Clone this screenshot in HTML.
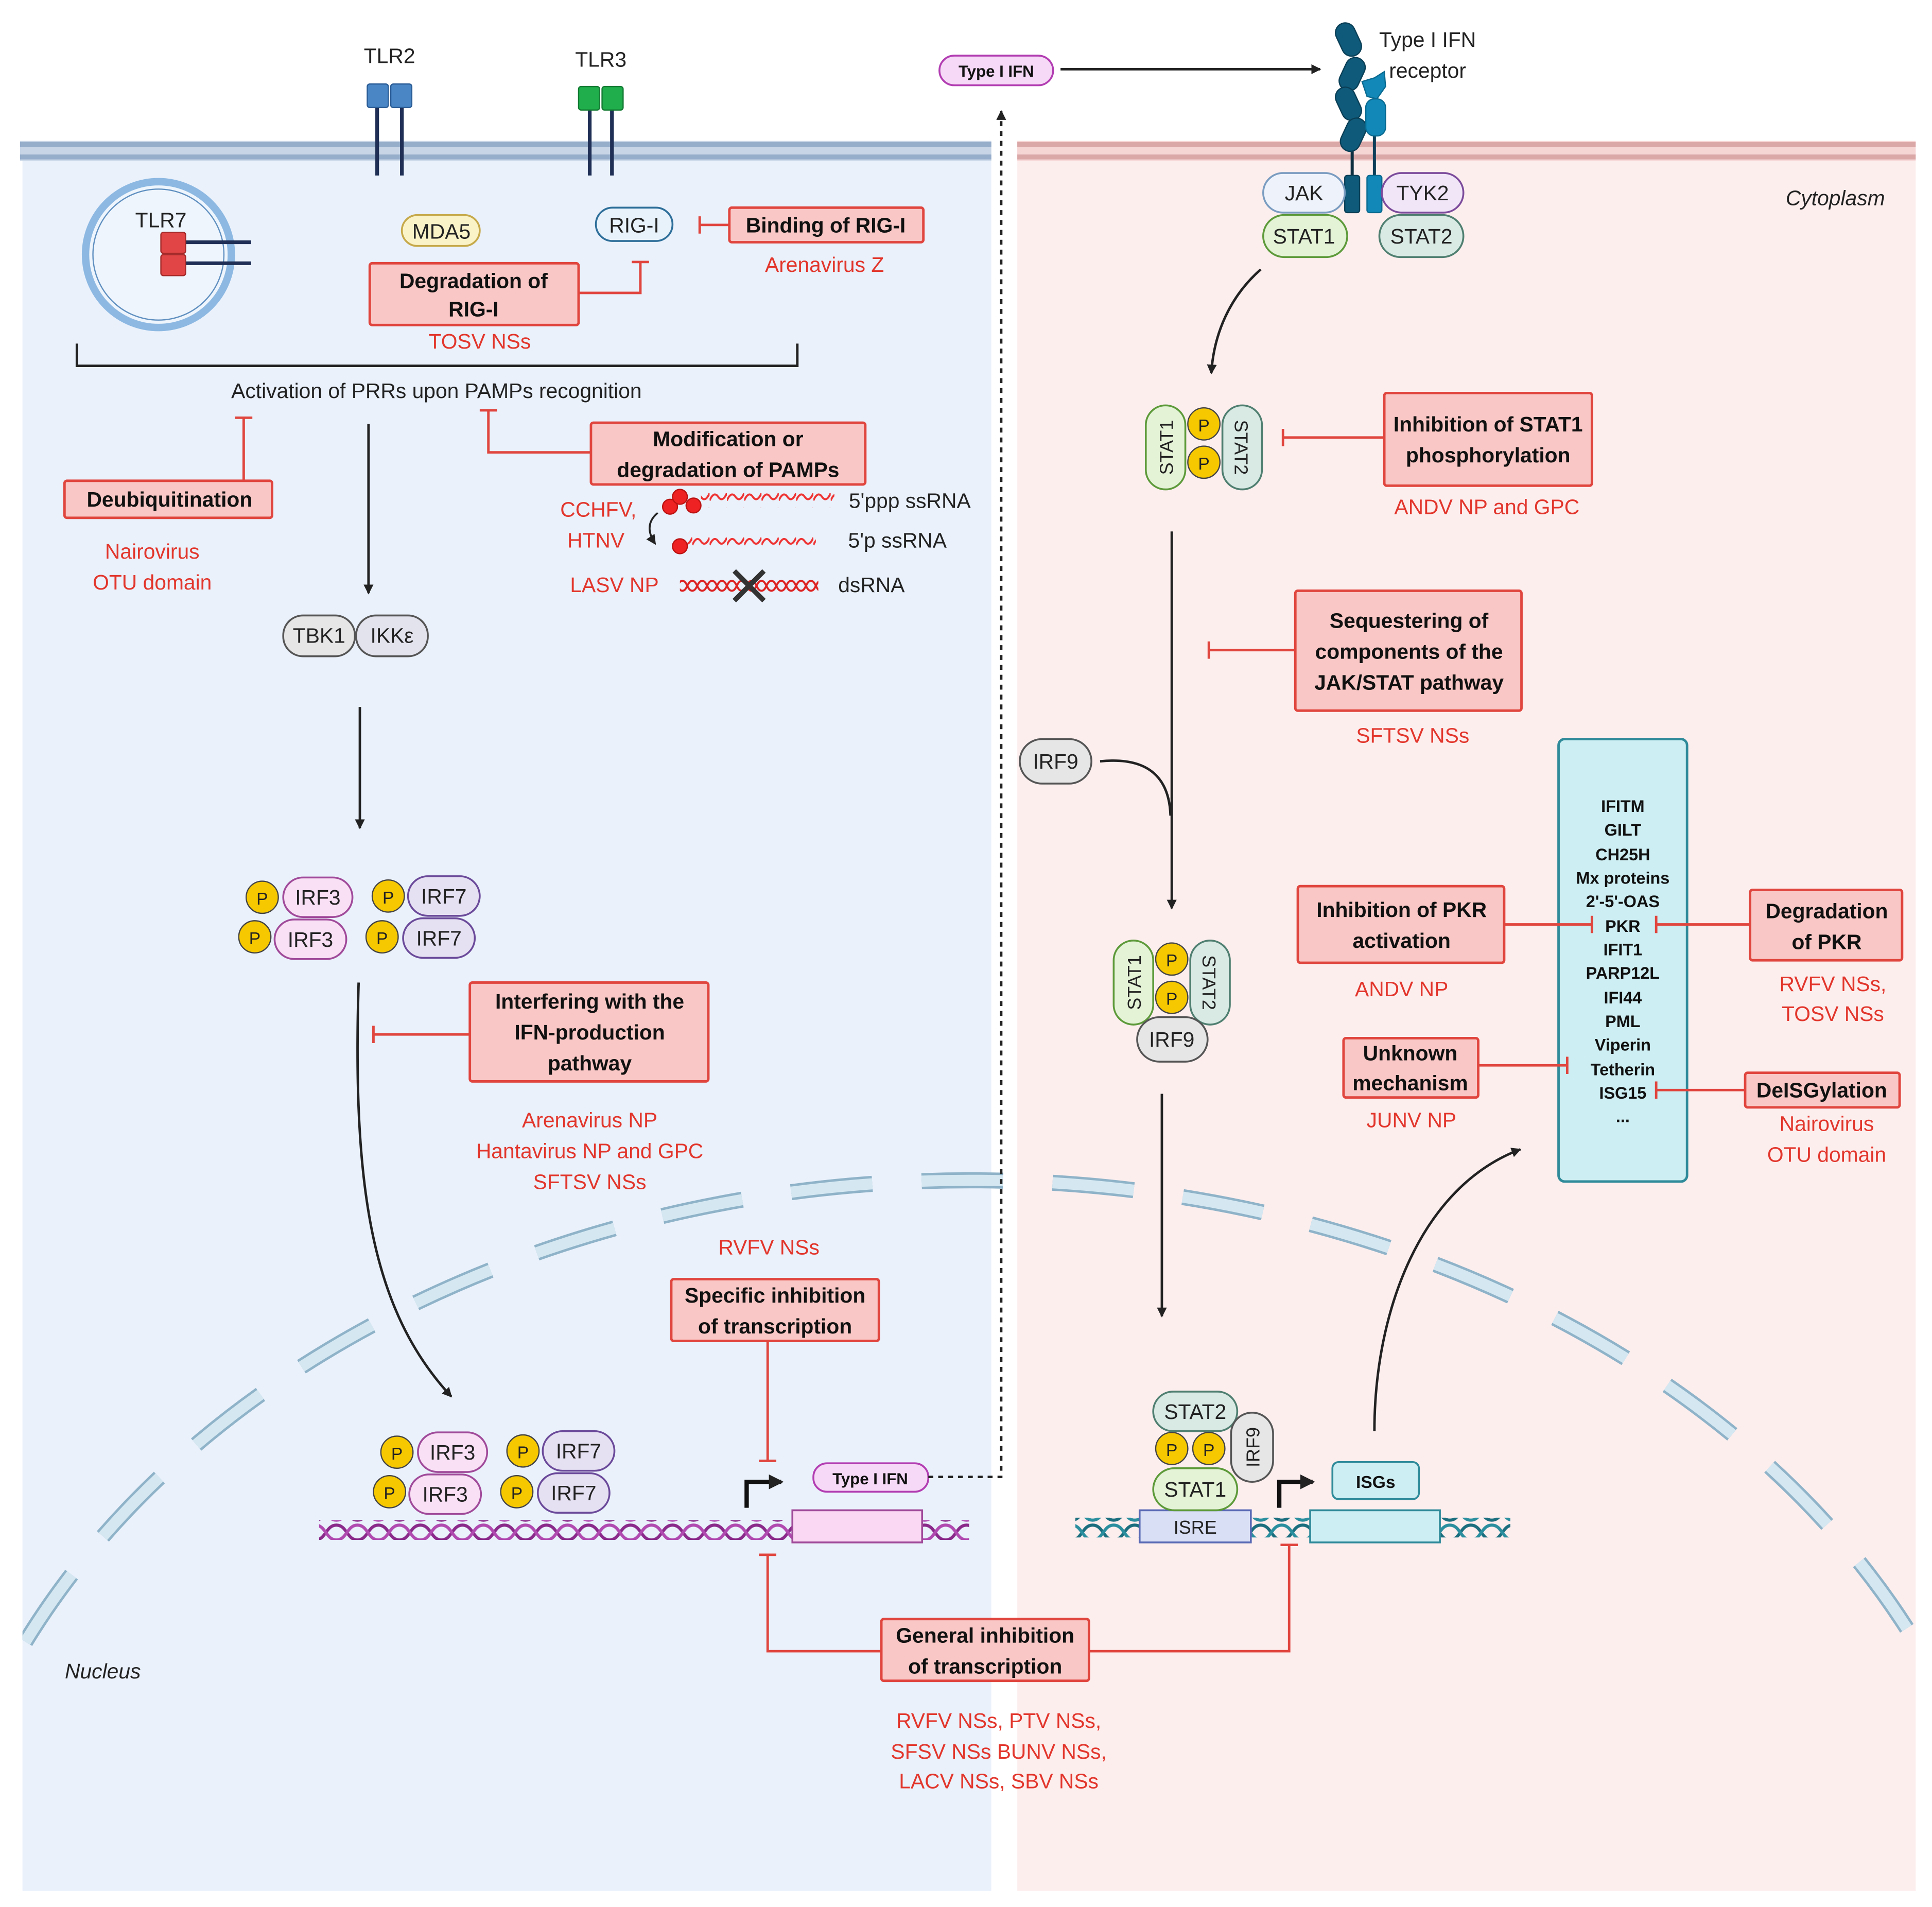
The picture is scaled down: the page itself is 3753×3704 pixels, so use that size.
<!DOCTYPE html>
<html><head><meta charset="utf-8"><style>
html,body{margin:0;padding:0;background:#fff;overflow:hidden;width:3753px;height:3704px;}
svg{display:block;}
text{font-family:"Liberation Sans",sans-serif;}
.t{font-size:17px;fill:#222;text-anchor:middle;}
.r{font-size:17px;fill:#e2362c;text-anchor:middle;}
.b{font-size:17px;font-weight:bold;fill:#111;text-anchor:middle;}
.rb{fill:#f9c7c5;stroke:#e0453e;stroke-width:2;}
.inh{stroke:#e0453e;stroke-width:2;fill:none;}
.ar{stroke:#222;stroke-width:2;fill:none;marker-end:url(#ah);}
.pl{font-size:17px;fill:#222;text-anchor:middle;}
.isg{font-size:13.5px;font-weight:bold;fill:#111;text-anchor:middle;}
</style></head><body>
<svg width="3753" height="3704" viewBox="0 0 1563 1543" xmlns="http://www.w3.org/2000/svg">
<defs>
<marker id="ah" markerWidth="8" markerHeight="8" refX="7" refY="4" orient="auto" markerUnits="userSpaceOnUse" viewBox="0 0 8 8"><path d="M0,0 L8,4 L0,8 z" fill="#222"/></marker>
<marker id="ah2" markerWidth="12" markerHeight="12" refX="10" refY="6" orient="auto" markerUnits="userSpaceOnUse" viewBox="0 0 12 12"><path d="M0,0 L12,6 L0,12 z" fill="#222"/></marker>
<pattern id="dnaP" width="34" height="16" patternUnits="userSpaceOnUse"><path d="M0,2 C8.5,2 8.5,14 17,14 C25.5,14 25.5,2 34,2" stroke="#8a2a8a" stroke-width="2.5" fill="none"/><path d="M0,14 C8.5,14 8.5,2 17,2 C25.5,2 25.5,14 34,14" stroke="#b04ab0" stroke-width="2.5" fill="none"/></pattern>
<pattern id="dnaT" width="34" height="16" patternUnits="userSpaceOnUse"><path d="M0,2 C8.5,2 8.5,14 17,14 C25.5,14 25.5,2 34,2" stroke="#1a6e7e" stroke-width="2.5" fill="none"/><path d="M0,14 C8.5,14 8.5,2 17,2 C25.5,2 25.5,14 34,14" stroke="#2a8e9e" stroke-width="2.5" fill="none"/></pattern>
<pattern id="rna" width="14" height="12" patternUnits="userSpaceOnUse"><path d="M0,9 Q3.5,1 7,6 T14,3" stroke="#e33" stroke-width="1.6" fill="none"/></pattern>
<pattern id="ds" width="16" height="12" patternUnits="userSpaceOnUse"><path d="M0,2 C4,2 4,10 8,10 C12,10 12,2 16,2" stroke="#d22" stroke-width="1.6" fill="none"/><path d="M0,10 C4,10 4,2 8,2 C12,2 12,10 16,10" stroke="#d22" stroke-width="1.6" fill="none"/></pattern>
<clipPath id="nc"><rect x="18" y="900" width="1532" height="445"/></clipPath>
</defs>

<rect x="18" y="120" width="784" height="1410" fill="#eaf1fb"/>
<rect x="823" y="120" width="727" height="1410" fill="#fdeeee"/>
<rect x="16" y="114" width="786" height="16" fill="#c7d5e6"/>
<rect x="16" y="115" width="786" height="4" fill="#97aecb"/>
<rect x="16" y="125" width="786" height="4" fill="#97aecb"/>
<rect x="823" y="114" width="727" height="16" fill="#f6d5d5"/>
<rect x="823" y="115" width="727" height="4" fill="#dba8a8"/>
<rect x="823" y="125" width="727" height="4" fill="#dba8a8"/>

<g clip-path="url(#nc)">
<ellipse cx="785" cy="1605" rx="845" ry="650" fill="none" stroke="#8fb3c8" stroke-width="13" stroke-dasharray="66 40"/>
<ellipse cx="785" cy="1605" rx="845" ry="650" fill="none" stroke="#d5e8f2" stroke-width="9" stroke-dasharray="66 40"/>
</g>

<text class="t" x="315" y="51">TLR2</text>
<line x1="305" y1="86" x2="305" y2="142" stroke="#1f2f55" stroke-width="3"/>
<line x1="325" y1="86" x2="325" y2="142" stroke="#1f2f55" stroke-width="3"/>
<rect x="297" y="68" width="17" height="19" rx="2" fill="#4a86c5" stroke="#2a5c95"/>
<rect x="316" y="68" width="17" height="19" rx="2" fill="#4a86c5" stroke="#2a5c95"/>
<text class="t" x="486" y="54">TLR3</text>
<line x1="477" y1="88" x2="477" y2="142" stroke="#1f2f55" stroke-width="3"/>
<line x1="495" y1="88" x2="495" y2="142" stroke="#1f2f55" stroke-width="3"/>
<rect x="468" y="70" width="17" height="19" rx="2" fill="#1fae4b" stroke="#137a33"/>
<rect x="487" y="70" width="17" height="19" rx="2" fill="#1fae4b" stroke="#137a33"/>

<circle cx="128" cy="206" r="59" fill="#eef5fc" stroke="#8cb8e2" stroke-width="6"/>
<circle cx="128" cy="206" r="53" fill="none" stroke="#5f8fc0" stroke-width="1"/>
<text class="t" x="130" y="184">TLR7</text>
<line x1="145" y1="196" x2="203" y2="196" stroke="#1f2f55" stroke-width="3"/>
<line x1="145" y1="213" x2="203" y2="213" stroke="#1f2f55" stroke-width="3"/>
<rect x="130" y="188" width="20" height="17" rx="2" fill="#e14545" stroke="#a52a2a"/>
<rect x="130" y="206" width="20" height="17" rx="2" fill="#e14545" stroke="#a52a2a"/>

<rect x="325" y="174" width="63" height="25" rx="12.5" fill="#fbf3c8" stroke="#c6a94a" stroke-width="1.5"/>
<text class="pl" x="357" y="193">MDA5</text>
<rect x="482" y="168" width="62" height="27" rx="13.5" fill="#e8f2fb" stroke="#2e6f9a" stroke-width="1.5"/>
<text class="pl" x="513" y="188">RIG-I</text>

<rect class="rb" x="590" y="168" width="157" height="28" rx="2"/>
<text class="b" x="668" y="188">Binding of RIG-I</text>
<path class="inh" d="M590,182 H566 M566,175 V189"/>
<text class="r" x="667" y="220">Arenavirus Z</text>

<rect class="rb" x="299" y="213" width="169" height="50" rx="2"/>
<text class="b" x="383" y="233">Degradation of</text>
<text class="b" x="383" y="256">RIG-I</text>
<path class="inh" d="M468,237 H518 V212 M511,212 H525"/>
<text class="r" x="388" y="282">TOSV NSs</text>

<path d="M62,278 V296 H645 V278" stroke="#222" stroke-width="2" fill="none"/>
<text class="t" x="353" y="322">Activation of PRRs upon PAMPs recognition</text>
<line class="ar" x1="298" y1="343" x2="298" y2="480"/>

<rect class="rb" x="52" y="389" width="168" height="30" rx="2"/>
<text class="b" x="137" y="410">Deubiquitination</text>
<path class="inh" d="M197,389 V338 M190,338 H204"/>
<text class="r" x="123" y="452">Nairovirus</text>
<text class="r" x="123" y="477">OTU domain</text>

<rect class="rb" x="478" y="342" width="222" height="50" rx="2"/>
<text class="b" x="589" y="361">Modification or</text>
<text class="b" x="589" y="386">degradation of PAMPs</text>
<path class="inh" d="M478,366 H395 V332 M388,332 H402"/>

<text class="r" x="484" y="418">CCHFV,</text>
<text class="r" x="482" y="443">HTNV</text>
<text class="r" x="497" y="479">LASV NP</text>
<rect x="567" y="399" width="108" height="12" fill="url(#rna)"/>
<circle cx="542" cy="410" r="6" fill="#e22" stroke="#b11"/>
<circle cx="550" cy="402" r="6" fill="#e22" stroke="#b11"/>
<circle cx="561" cy="409" r="6" fill="#e22" stroke="#b11"/>
<rect x="556" y="432" width="104" height="12" fill="url(#rna)"/>
<circle cx="550" cy="442" r="6" fill="#e22" stroke="#b11"/>
<path d="M532,415 Q520,425 530,440" stroke="#222" stroke-width="1.5" fill="none" marker-end="url(#ah)"/>
<rect x="550" y="467" width="112" height="12" fill="url(#ds)"/>
<path d="M594,462 L618,486 M618,462 L594,486" stroke="#333" stroke-width="4"/>
<text class="t" x="736" y="411">5'ppp ssRNA</text>
<text class="t" x="726" y="443">5'p ssRNA</text>
<text class="t" x="705" y="479">dsRNA</text>

<rect x="229" y="498" width="58" height="33" rx="16" fill="#e6e6e6" stroke="#555" stroke-width="1.5"/>
<text class="pl" x="258" y="520">TBK1</text>
<rect x="288" y="498" width="58" height="33" rx="16" fill="#e3e3ee" stroke="#555" stroke-width="1.5"/>
<text class="pl" x="317" y="520">IKKε</text>
<line class="ar" x1="291" y1="572" x2="291" y2="670"/>

<g id="irfs">
<rect x="229" y="710" width="56" height="32" rx="16" fill="#f9e0f5" stroke="#a04a9a" stroke-width="1.5"/>
<text class="pl" x="257" y="732">IRF3</text>
<rect x="222" y="744" width="58" height="32" rx="16" fill="#f9e0f5" stroke="#a04a9a" stroke-width="1.5"/>
<text class="pl" x="251" y="766">IRF3</text>
<circle cx="212" cy="726" r="13" fill="#f6c800" stroke="#444"/><text class="pl" x="212" y="732" style="font-size:14px">P</text>
<circle cx="206" cy="758" r="13" fill="#f6c800" stroke="#444"/><text class="pl" x="206" y="764" style="font-size:14px">P</text>
<rect x="330" y="709" width="58" height="32" rx="16" fill="#e6e0f3" stroke="#6b4a9a" stroke-width="1.5"/>
<text class="pl" x="359" y="731">IRF7</text>
<rect x="326" y="743" width="58" height="32" rx="16" fill="#e6e0f3" stroke="#6b4a9a" stroke-width="1.5"/>
<text class="pl" x="355" y="765">IRF7</text>
<circle cx="314" cy="725" r="13" fill="#f6c800" stroke="#444"/><text class="pl" x="314" y="731" style="font-size:14px">P</text>
<circle cx="309" cy="758" r="13" fill="#f6c800" stroke="#444"/><text class="pl" x="309" y="764" style="font-size:14px">P</text>
</g>

<rect class="rb" x="380" y="795" width="193" height="80" rx="2"/>
<text class="b" x="477" y="816">Interfering with the</text>
<text class="b" x="477" y="841">IFN-production</text>
<text class="b" x="477" y="866">pathway</text>
<path class="inh" d="M380,837 H302 M302,830 V844"/>
<text class="r" x="477" y="912">Arenavirus NP</text>
<text class="r" x="477" y="937">Hantavirus NP and GPC</text>
<text class="r" x="477" y="962">SFTSV NSs</text>

<path class="ar" d="M290,795 C285,960 300,1060 365,1130"/>

<use href="#irfs" transform="translate(109,449)"/>
<rect x="258" y="1230" width="526" height="16" fill="url(#dnaP)"/>
<rect x="641" y="1222" width="105" height="26" fill="#fad7f3" stroke="#a04a9a" stroke-width="1.5"/>
<path d="M604,1220 V1199 H632" stroke="#111" stroke-width="3.5" fill="none" marker-end="url(#ah2)"/>
<rect x="658" y="1184" width="93" height="23" rx="11" fill="#f6d9f6" stroke="#b23db2" stroke-width="1.5"/>
<text class="b" x="704" y="1201" style="font-size:13px">Type I IFN</text>
<path d="M751,1195 H810 V90" stroke="#222" stroke-width="2" stroke-dasharray="4 4" fill="none" marker-end="url(#ah)"/>

<text class="r" x="622" y="1015">RVFV NSs</text>
<rect class="rb" x="543" y="1035" width="168" height="50" rx="2"/>
<text class="b" x="627" y="1054">Specific inhibition</text>
<text class="b" x="627" y="1079">of transcription</text>
<path class="inh" d="M621,1085 V1182 M614,1182 H628"/>

<rect class="rb" x="713" y="1310" width="168" height="50" rx="2"/>
<text class="b" x="797" y="1329">General inhibition</text>
<text class="b" x="797" y="1354">of transcription</text>
<path class="inh" d="M713,1336 H621 V1258 M614,1258 H628 M881,1336 H1043 V1250 M1036,1250 H1050"/>
<text class="r" x="808" y="1398">RVFV NSs, PTV NSs,</text>
<text class="r" x="808" y="1423">SFSV NSs BUNV NSs,</text>
<text class="r" x="808" y="1447">LACV NSs, SBV NSs</text>
<text x="83" y="1358" style="font-size:17px;font-style:italic;fill:#222;text-anchor:middle">Nucleus</text>

<rect x="760" y="45" width="92" height="24" rx="12" fill="#f6d9f6" stroke="#b23db2" stroke-width="1.5"/>
<text class="b" x="806" y="62" style="font-size:13px">Type I IFN</text>
<line class="ar" x1="858" y1="56" x2="1068" y2="56"/>

<line x1="1094" y1="100" x2="1094" y2="142" stroke="#0e2f40" stroke-width="2.5"/>
<line x1="1112" y1="100" x2="1112" y2="142" stroke="#0e3f5a" stroke-width="2.5"/>
<g fill="#0f5a7a" stroke="#0a3f56" stroke-width="1">
<rect x="-8" y="-14" width="16" height="28" rx="8" transform="translate(1091,32) rotate(-25)"/>
<rect x="-8" y="-14" width="16" height="28" rx="8" transform="translate(1094,60) rotate(25)"/>
<rect x="-8" y="-14" width="16" height="28" rx="8" transform="translate(1091,84) rotate(-25)"/>
<rect x="-8" y="-14" width="16" height="28" rx="8" transform="translate(1095,109) rotate(25)"/>
<rect x="1088" y="142" width="12" height="30" rx="2"/>
</g>
<g fill="#1188b8" stroke="#0a6a90" stroke-width="1">
<path d="M1102,66 L1112,63 L1120,58 L1121,70 L1114,80 L1106,78 z"/>
<rect x="1105" y="80" width="16" height="30" rx="7"/>
<rect x="1106" y="142" width="12" height="30" rx="2"/>
</g>
<text class="t" x="1155" y="38">Type I IFN</text>
<text class="t" x="1155" y="63">receptor</text>
<text x="1485" y="166" style="font-size:17px;font-style:italic;fill:#222;text-anchor:middle">Cytoplasm</text>

<rect x="1022" y="140" width="66" height="32" rx="16" fill="#eef3fb" stroke="#7a9cc0" stroke-width="1.5"/>
<text class="pl" x="1055" y="162">JAK</text>
<rect x="1022" y="174" width="68" height="34" rx="17" fill="#e4f2d6" stroke="#5d9a3a" stroke-width="1.5"/>
<text class="pl" x="1055" y="197">STAT1</text>
<rect x="1118" y="140" width="66" height="32" rx="16" fill="#f0e6f8" stroke="#7c4b9b" stroke-width="1.5"/>
<text class="pl" x="1151" y="162">TYK2</text>
<rect x="1116" y="174" width="68" height="34" rx="17" fill="#d9e9e4" stroke="#4f7f70" stroke-width="1.5"/>
<text class="pl" x="1150" y="197">STAT2</text>
<path class="ar" d="M1020,218 C995,240 982,270 980,302"/>

<g id="dim">
<rect x="927" y="328" width="32" height="68" rx="16" fill="#e4f2d6" stroke="#5d9a3a" stroke-width="1.5"/>
<text class="pl" transform="translate(949,362) rotate(-90)" style="font-size:15px">STAT1</text>
<rect x="989" y="328" width="32" height="68" rx="16" fill="#d9e9e4" stroke="#4f7f70" stroke-width="1.5"/>
<text class="pl" transform="translate(999,362) rotate(90)" style="font-size:15px">STAT2</text>
<circle cx="974" cy="343" r="13" fill="#f6c800" stroke="#444"/><text class="pl" x="974" y="349" style="font-size:14px">P</text>
<circle cx="974" cy="374" r="13" fill="#f6c800" stroke="#444"/><text class="pl" x="974" y="380" style="font-size:14px">P</text>
</g>
<rect class="rb" x="1120" y="318" width="168" height="75" rx="2"/>
<text class="b" x="1204" y="349">Inhibition of STAT1</text>
<text class="b" x="1204" y="374">phosphorylation</text>
<path class="inh" d="M1120,354 H1038 M1038,347 V361"/>
<text class="r" x="1203" y="416">ANDV NP and GPC</text>

<line class="ar" x1="948" y1="430" x2="948" y2="735"/>
<rect class="rb" x="1048" y="478" width="183" height="97" rx="2"/>
<text class="b" x="1140" y="508">Sequestering of</text>
<text class="b" x="1140" y="533">components of the</text>
<text class="b" x="1140" y="558">JAK/STAT pathway</text>
<path class="inh" d="M1048,526 H978 M978,519 V533"/>
<text class="r" x="1143" y="601">SFTSV NSs</text>

<rect x="825" y="598" width="58" height="36" rx="18" fill="#e6e6e6" stroke="#555" stroke-width="1.5"/>
<text class="pl" x="854" y="622">IRF9</text>
<path d="M890,616 C930,612 946,630 947,660" stroke="#222" stroke-width="2" fill="none"/>

<use href="#dim" transform="translate(-26,433)"/>
<rect x="920" y="823" width="57" height="36" rx="18" fill="#e6e6e6" stroke="#555" stroke-width="1.5"/>
<text class="pl" x="948" y="847">IRF9</text>
<line class="ar" x1="940" y1="885" x2="940" y2="1065"/>

<rect x="1261" y="598" width="104" height="358" rx="5" fill="#cdeef2" stroke="#2f8a99" stroke-width="2"/>
<g>
<text class="isg" x="1313" y="657">IFITM</text>
<text class="isg" x="1313" y="676">GILT</text>
<text class="isg" x="1313" y="696">CH25H</text>
<text class="isg" x="1313" y="715">Mx proteins</text>
<text class="isg" x="1313" y="734">2'-5'-OAS</text>
<text class="isg" x="1313" y="754">PKR</text>
<text class="isg" x="1313" y="773">IFIT1</text>
<text class="isg" x="1313" y="792">PARP12L</text>
<text class="isg" x="1313" y="812">IFI44</text>
<text class="isg" x="1313" y="831">PML</text>
<text class="isg" x="1313" y="850">Viperin</text>
<text class="isg" x="1313" y="870">Tetherin</text>
<text class="isg" x="1313" y="889">ISG15</text>
<text class="isg" x="1313" y="908">...</text>
</g>
<rect class="rb" x="1050" y="717" width="167" height="62" rx="2"/>
<text class="b" x="1134" y="742">Inhibition of PKR</text>
<text class="b" x="1134" y="767">activation</text>
<path class="inh" d="M1217,748 H1288 M1288,741 V755"/>
<text class="r" x="1134" y="806">ANDV NP</text>
<rect class="rb" x="1416" y="720" width="123" height="57" rx="2"/>
<text class="b" x="1478" y="743">Degradation</text>
<text class="b" x="1478" y="768">of PKR</text>
<path class="inh" d="M1416,748 H1340 M1340,741 V755"/>
<text class="r" x="1483" y="802">RVFV NSs,</text>
<text class="r" x="1483" y="826">TOSV NSs</text>
<rect class="rb" x="1087" y="840" width="109" height="48" rx="2"/>
<text class="b" x="1141" y="858">Unknown</text>
<text class="b" x="1141" y="882">mechanism</text>
<path class="inh" d="M1196,862 H1268 M1268,855 V869"/>
<text class="r" x="1142" y="912">JUNV NP</text>
<rect class="rb" x="1412" y="868" width="125" height="28" rx="2"/>
<text class="b" x="1474" y="888">DeISGylation</text>
<path class="inh" d="M1412,882 H1340 M1340,875 V889"/>
<text class="r" x="1478" y="915">Nairovirus</text>
<text class="r" x="1478" y="940">OTU domain</text>

<path class="ar" d="M1112,1158 C1112,1060 1150,960 1230,930"/>

<rect x="870" y="1228" width="352" height="16" fill="url(#dnaT)"/>
<rect x="922" y="1222" width="90" height="26" fill="#d9dff5" stroke="#5a6ab5" stroke-width="1.5"/>
<text class="pl" x="967" y="1241" style="font-size:15px">ISRE</text>
<rect x="1060" y="1222" width="105" height="26" fill="#cdeef2" stroke="#2f8a99" stroke-width="1.5"/>
<path d="M1035,1220 V1199 H1062" stroke="#111" stroke-width="3.5" fill="none" marker-end="url(#ah2)"/>
<rect x="1078" y="1183" width="70" height="30" rx="5" fill="#cdeef2" stroke="#2f8a99" stroke-width="1.5"/>
<text class="b" x="1113" y="1204" style="font-size:14px">ISGs</text>
<rect x="933" y="1126" width="68" height="32" rx="16" fill="#d9e9e4" stroke="#4f7f70" stroke-width="1.5"/>
<text class="pl" x="967" y="1148">STAT2</text>
<rect x="996" y="1143" width="34" height="56" rx="17" fill="#e6e6e6" stroke="#555" stroke-width="1.5"/>
<text class="pl" transform="translate(1019,1171) rotate(-90)" style="font-size:15px">IRF9</text>
<rect x="933" y="1188" width="68" height="34" rx="17" fill="#e4f2d6" stroke="#5d9a3a" stroke-width="1.5"/>
<text class="pl" x="967" y="1211">STAT1</text>
<circle cx="948" cy="1172" r="13" fill="#f6c800" stroke="#444"/><text class="pl" x="948" y="1178" style="font-size:14px">P</text>
<circle cx="978" cy="1172" r="13" fill="#f6c800" stroke="#444"/><text class="pl" x="978" y="1178" style="font-size:14px">P</text>
</svg>
</body></html>
